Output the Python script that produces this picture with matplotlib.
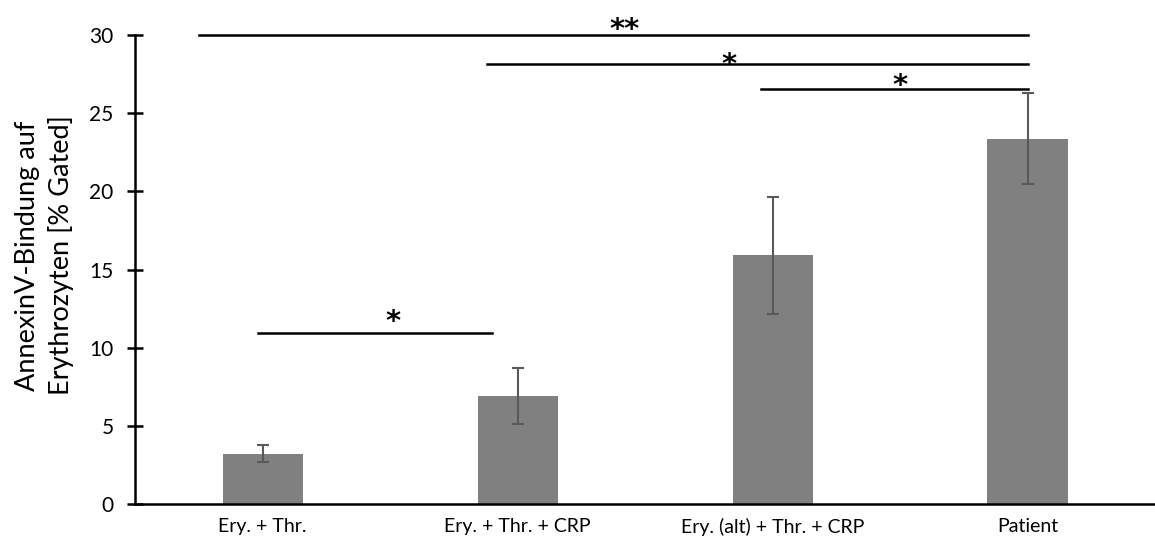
import numpy as np
import matplotlib
matplotlib.use("Agg")
import matplotlib.pyplot as plt

plt.rcParams['font.family'] = ['Lato', 'DejaVu Sans']

# Daten
kategorien = ['Ery. + Thr.', 'Ery. + Thr. + CRP', 'Ery. (alt) + Thr. + CRP', 'Patient']
mittelwerte = [3.23, 6.92, 15.9, 23.36]
fehler = [0.54, 1.8, 3.75, 2.9]

# Signifikanz-Linien und Sternchen
sig_x_start = [-0.25, 0.88, 1.955, -0.02]
sig_x_ende = [3.0, 3.0, 3.0, 0.90]
sig_y = [30.0, 28.15, 26.57, 10.92]
sig_text = ['**', '*', '*', '*']
sig_text_x = [1.42, 1.83, 2.50, 0.51]
sig_text_y = [30.77, 28.53, 27.13, 12.03]  # Mitte des Sternchens

fig = plt.figure(figsize=(11.55, 5.47), dpi=100)
ax = fig.add_axes([0.117, 0.0786, 0.883, 0.8574])

x = np.arange(len(kategorien))
ax.bar(x, mittelwerte, width=0.314, color='#808080', zorder=2)
ax.errorbar(x, mittelwerte, yerr=fehler, fmt='none', ecolor='#595959',
            elinewidth=1.5, capsize=4.5, capthick=1.5, zorder=3)

for xs, xe, y, t, tx, ty in zip(sig_x_start, sig_x_ende, sig_y, sig_text, sig_text_x, sig_text_y):
    ax.plot([xs, xe], [y, y], color='black', linewidth=1.8, clip_on=False, zorder=4)
    # Sternchen: Grundlinie unterhalb der Glyphenmitte
    ax.text(tx, ty - 0.93, t, ha='center', va='baseline', fontsize=21,
            fontweight='bold', family='DejaVu Sans', clip_on=False)

ax.set_xlim(-0.5, 3.5)
ax.set_ylim(0, 30)
ax.set_yticks(np.arange(0, 31, 5))
ax.set_xticks(x)
ax.set_xticklabels(kategorien, fontsize=14)
ax.tick_params(axis='x', length=0, pad=10)
ax.tick_params(axis='y', direction='inout', length=11, width=1.8, labelsize=15, pad=10)

for s in ['top', 'right']:
    ax.spines[s].set_visible(False)
ax.spines['left'].set_linewidth(1.8)
ax.spines['bottom'].set_linewidth(1.8)

ax.set_ylabel('AnnexinV-Bindung auf\nErythrozyten [% Gated]', fontsize=19.5, va='center', linespacing=1.35)
ax.yaxis.set_label_coords(-0.089, 0.53)

fig.savefig('out.png', dpi=100)
